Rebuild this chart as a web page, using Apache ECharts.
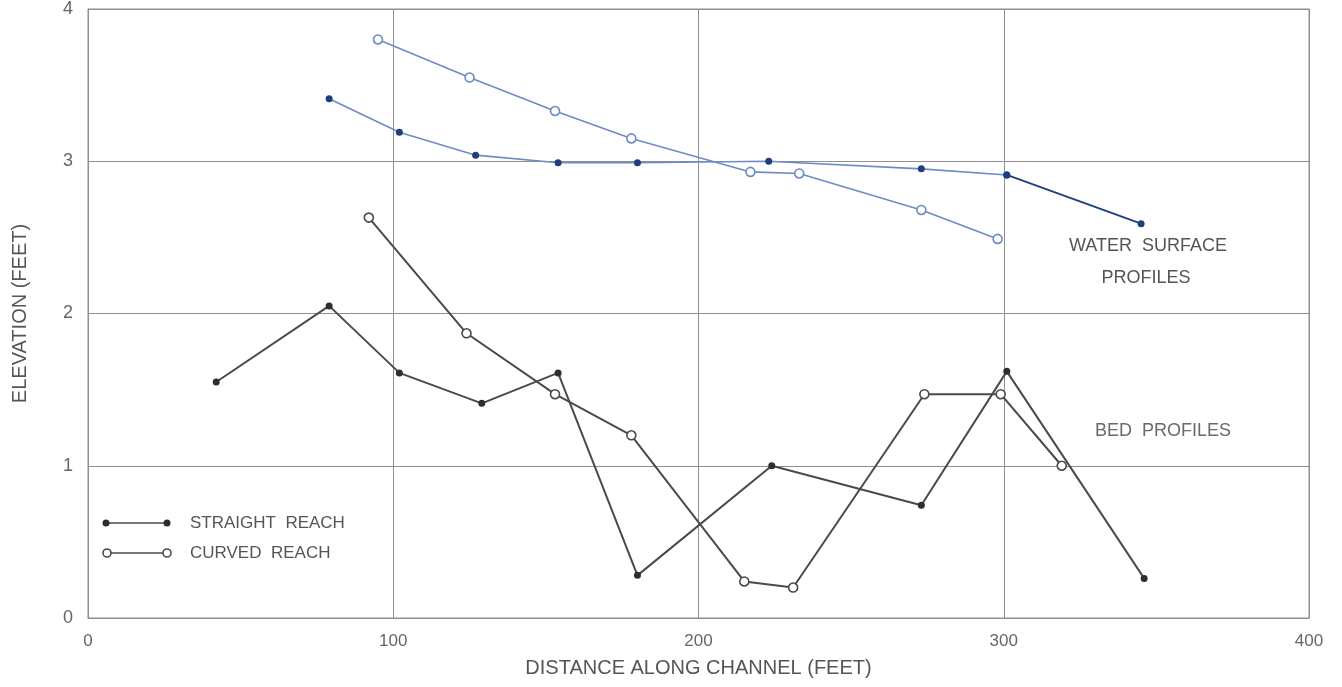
<!DOCTYPE html>
<html>
<head>
<meta charset="utf-8">
<title>Water surface and bed profiles</title>
<script src="https://cdn.jsdelivr.net/npm/echarts@6/dist/echarts.min.js"></script>
<style>
  html, body { margin: 0; padding: 0; background: #ffffff; }
  #chart { width: 1342px; height: 687px; }
</style>
</head>
<body>
<div id="chart"></div>
<script>
// Distance along channel (feet) and elevation (feet) for each profile
const waterStraightX = [79, 102, 127, 154, 180, 223, 273, 301];
const waterStraightY = [3.41, 3.19, 3.04, 2.99, 2.99, 3.00, 2.95, 2.91];
const waterStraightTailX = [301, 345];
const waterStraightTailY = [2.91, 2.59];

const waterCurvedX = [95, 125, 153, 178, 217, 233, 273, 298];
const waterCurvedY = [3.80, 3.55, 3.33, 3.15, 2.93, 2.92, 2.68, 2.49];

const bedStraightX = [42, 79, 102, 129, 154, 180, 224, 273, 301, 346];
const bedStraightY = [1.55, 2.05, 1.61, 1.41, 1.61, 0.28, 1.00, 0.74, 1.62, 0.26];

const bedCurvedX = [92, 124, 153, 178, 215, 231, 274, 299, 319];
const bedCurvedY = [2.63, 1.87, 1.47, 1.20, 0.24, 0.20, 1.47, 1.47, 1.00];

const xTicks = [0, 100, 200, 300, 400];
const yTicks = [0, 1, 2, 3, 4];

const pairs = (xs, ys) => xs.map((x, i) => [x, ys[i]]);

const FONT = '"Liberation Sans", "DejaVu Sans", sans-serif';
const TEXT = '#555555';
const GRID = '#8f8f8f';
const BLUE_LINE = '#6d8cc4';
const NAVY = '#1d3f7d';
const GRAY = '#4a4a4a';

const chart = echarts.init(document.getElementById('chart'));

function filledSeries(name, data, lineColor, dotColor, width) {
  return {
    name, type: 'line', data,
    symbol: 'circle', symbolSize: 7,
    lineStyle: { color: lineColor, width },
    itemStyle: { color: dotColor, borderColor: dotColor, borderWidth: 0 },
    animation: false, z: 3
  };
}
function openSeries(name, data, lineColor, width) {
  return {
    name, type: 'line', data,
    symbol: 'circle', symbolSize: 9,
    lineStyle: { color: lineColor, width },
    itemStyle: { color: '#ffffff', borderColor: lineColor, borderWidth: 1.6 },
    animation: false, z: 4
  };
}

function label(text, x, y, size, color) {
  return {
    type: 'text', x, y, silent: true,
    style: {
      text, fontFamily: FONT, fontSize: size, fill: color || TEXT,
      align: 'center', verticalAlign: 'middle',
      textAlign: 'center', textVerticalAlign: 'middle'
    }
  };
}

chart.setOption({
  backgroundColor: '#ffffff',
  grid: {
    left: 88, right: 33, top: 9, bottom: 69,
    show: true, borderColor: GRID, borderWidth: 1
  },
  xAxis: {
    type: 'value', min: 0, max: 400, interval: 100,
    name: 'DISTANCE ALONG CHANNEL (FEET)',
    nameLocation: 'middle', nameGap: 40,
    nameTextStyle: { fontFamily: FONT, fontSize: 20, color: TEXT },
    axisLine: { show: true, lineStyle: { color: GRID, width: 1, type: 'dotted' } },
    axisTick: { show: false },
    axisLabel: {
      fontFamily: FONT, fontSize: 17, color: '#666666', margin: 15,
      formatter: v => (xTicks.includes(v) ? String(v) : '')
    },
    splitLine: { show: true, lineStyle: { color: GRID, width: 1 } }
  },
  yAxis: {
    type: 'value', min: 0, max: 4, interval: 1,
    name: 'ELEVATION (FEET)',
    nameLocation: 'middle', nameGap: 58, nameRotate: 90,
    nameTextStyle: { fontFamily: FONT, fontSize: 20, color: TEXT },
    axisLine: { show: true, lineStyle: { color: GRID, width: 1 } },
    axisTick: { show: false },
    axisLabel: {
      fontFamily: FONT, fontSize: 18, color: '#666666', margin: 15,
      padding: [5, 0, 0, 0],
      formatter: v => (yTicks.includes(v) ? String(v) : '')
    },
    splitLine: { show: true, lineStyle: { color: GRID, width: 1 } }
  },
  series: [
    filledSeries('Water surface, straight reach', pairs(waterStraightX, waterStraightY), BLUE_LINE, NAVY, 1.6),
    filledSeries('Water surface, straight reach (downstream)', pairs(waterStraightTailX, waterStraightTailY), NAVY, NAVY, 1.8),
    openSeries('Water surface, curved reach', pairs(waterCurvedX, waterCurvedY), BLUE_LINE, 1.6),
    filledSeries('Bed, straight reach', pairs(bedStraightX, bedStraightY), GRAY, '#2e2e2e', 2),
    openSeries('Bed, curved reach', pairs(bedCurvedX, bedCurvedY), GRAY, 2)
  ],
  graphic: [
    // Profile annotations
    label('WATER  SURFACE', 1148, 246, 18),
    label('PROFILES', 1146, 278, 18),
    label('BED  PROFILES', 1163, 431, 18, '#6a6a6a'),
    // Key: straight reach
    { type: 'line', shape: { x1: 106, y1: 523, x2: 167, y2: 523 },
      style: { stroke: GRAY, lineWidth: 1.6 } },
    { type: 'circle', shape: { cx: 106, cy: 523, r: 3.5 }, style: { fill: '#2e2e2e' } },
    { type: 'circle', shape: { cx: 167, cy: 523, r: 3.5 }, style: { fill: '#2e2e2e' } },
    { type: 'text', x: 190, y: 523,
      style: { text: 'STRAIGHT  REACH', fontFamily: FONT, fontSize: 17, fill: TEXT,
               verticalAlign: 'middle', textVerticalAlign: 'middle' } },
    // Key: curved reach
    { type: 'line', shape: { x1: 111, y1: 553, x2: 163, y2: 553 },
      style: { stroke: GRAY, lineWidth: 1.6 } },
    { type: 'circle', shape: { cx: 107, cy: 553, r: 4 },
      style: { fill: '#ffffff', stroke: GRAY, lineWidth: 1.6 } },
    { type: 'circle', shape: { cx: 167, cy: 553, r: 4 },
      style: { fill: '#ffffff', stroke: GRAY, lineWidth: 1.6 } },
    { type: 'text', x: 190, y: 553,
      style: { text: 'CURVED  REACH', fontFamily: FONT, fontSize: 17, fill: TEXT,
               verticalAlign: 'middle', textVerticalAlign: 'middle' } }
  ]
});
</script>
</body>
</html>
